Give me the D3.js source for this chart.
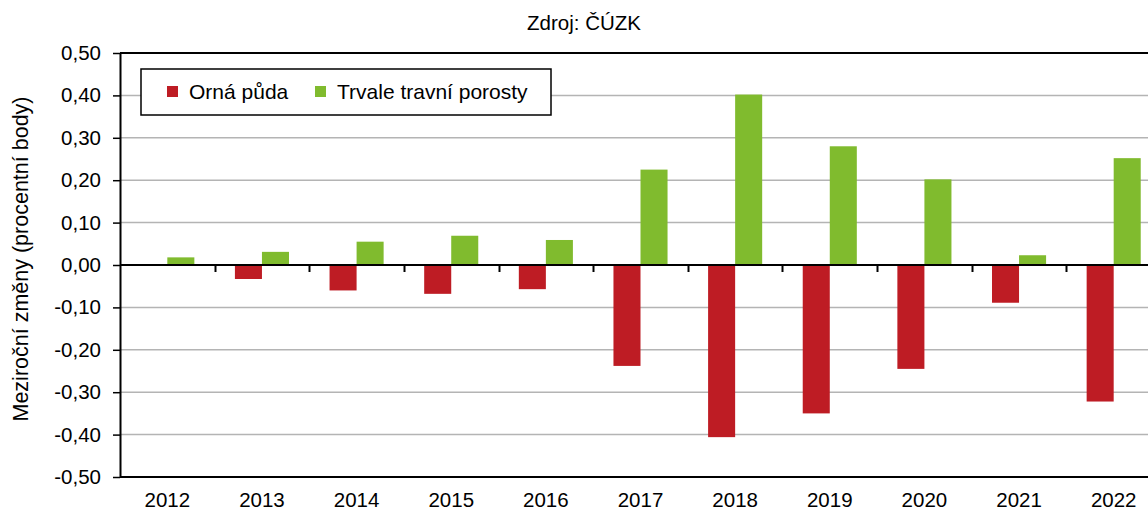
<!DOCTYPE html>
<html>
<head>
<meta charset="utf-8">
<script src="https://cdn.jsdelivr.net/npm/d3@7"></script>
<style>
    html, body { margin: 0; padding: 0; background: #fff; }
    svg { display: block; font-family: "Liberation Sans", Arial, sans-serif; }
</style>
</head>
<body>
<div id="chart"></div>
<script>
// data (procentní body)
const years = ['2012', '2013', '2014', '2015', '2016', '2017', '2018', '2019', '2020', '2021', '2022'];
const ornaPuda = [0.000, -0.033, -0.060, -0.068, -0.057, -0.238, -0.406, -0.350, -0.245, -0.089, -0.322];
const travniPorosty = [0.018, 0.031, 0.055, 0.069, 0.059, 0.225, 0.402, 0.280, 0.202, 0.023, 0.252];
const seriesNames = ['Orná půda', 'Trvale travní porosty'];
const seriesColors = ['#be1c24', '#80bb2e'];
const yTicks = [-0.5, -0.4, -0.3, -0.2, -0.1, 0, 0.1, 0.2, 0.3, 0.4, 0.5];

const width = 1148;
const height = 510;
const margins = {top: 53, right: -13, bottom: 33, left: 120};
const fmt = v => d3.format('.2f')(v).replace('.', ',').replace('−', '-');

const svg = d3.select('#chart')
    .append('svg')
    .attr('width', width)
    .attr('height', height);

const x = d3.scaleBand()
    .domain(years)
    .range([margins.left, width - margins.right]);

const xSub = d3.scaleBand()
    .domain([0, 1])
    .range([0, x.step()])
    .paddingOuter(0.75);

const y = d3.scaleLinear()
    .domain([-0.5, 0.5])
    .range([height - margins.bottom, margins.top]);

// gridlines
svg.append('g')
    .selectAll('line')
    .data(yTicks.filter(t => Math.abs(t) > 0.001 && Math.abs(t) < 0.49))
    .enter()
    .append('line')
    .attr('x1', margins.left)
    .attr('x2', width - margins.right)
    .attr('y1', d => y(d))
    .attr('y2', d => y(d))
    .attr('stroke', '#b4b4b4')
    .attr('stroke-width', 1.5);

// top border + bottom edge
[0.5, -0.5].forEach(v => {
    svg.append('line')
        .attr('x1', margins.left)
        .attr('x2', width - margins.right)
        .attr('y1', y(v))
        .attr('y2', y(v))
        .attr('stroke', '#000')
        .attr('stroke-width', 2);
});

// bars
const series = [ornaPuda, travniPorosty];
series.forEach((values, si) => {
    svg.append('g')
        .selectAll('rect')
        .data(values.map((v, i) => ({year: years[i], value: v})))
        .enter()
        .append('rect')
        .attr('x', d => x(d.year) + xSub(si))
        .attr('width', xSub.bandwidth())
        .attr('y', d => y(Math.max(0, d.value)))
        .attr('height', d => Math.abs(y(d.value) - y(0)))
        .attr('fill', seriesColors[si]);
});

// zero line with category ticks
svg.append('line')
    .attr('x1', margins.left)
    .attr('x2', width - margins.right)
    .attr('y1', y(0))
    .attr('y2', y(0))
    .attr('stroke', '#000')
    .attr('stroke-width', 2);

svg.append('g')
    .selectAll('line')
    .data(years.slice(1))
    .enter()
    .append('line')
    .attr('x1', d => Math.round(x(d)) + 0.5)
    .attr('x2', d => Math.round(x(d)) + 0.5)
    .attr('y1', y(0))
    .attr('y2', y(0) + 7)
    .attr('stroke', '#000')
    .attr('stroke-width', 2);

// x labels at the bottom
svg.append('g')
    .selectAll('text')
    .data(years)
    .enter()
    .append('text')
    .attr('x', d => x(d) + x.bandwidth() / 2)
    .attr('y', 507)
    .attr('text-anchor', 'middle')
    .style('font-size', '20.5px')
    .text(d => d);

// y axis
const yAxis = svg.append('g')
    .attr('transform', `translate(${margins.left}, 0)`)
    .call(d3.axisLeft(y).tickValues(yTicks).tickFormat(fmt).tickSize(7).tickPadding(12).tickSizeOuter(0));
yAxis.select('.domain').attr('stroke-width', 2);
yAxis.selectAll('.tick line').attr('stroke-width', 1.5);
yAxis.selectAll('.tick text')
    .attr('fill', '#000')
    .style('font-size', '20.5px')
    .style('font-family', '"Liberation Sans", Arial, sans-serif');

// y axis title
svg.append('text')
    .attr('transform', 'translate(28, 259) rotate(-90)')
    .attr('text-anchor', 'middle')
    .style('font-size', '21.5px')
    .text('Meziroční změny (procentní body)');

// title
svg.append('text')
    .attr('x', 584)
    .attr('y', 30)
    .attr('text-anchor', 'middle')
    .style('font-size', '20.5px')
    .text('Zdroj: ČÚZK');

// legend
const legend = svg.append('g').attr('transform', 'translate(141, 69)');
legend.append('rect')
    .attr('width', 410)
    .attr('height', 46)
    .attr('fill', '#fff')
    .attr('stroke', '#000')
    .attr('stroke-width', 1.5);

const legendX = [26, 174];
seriesNames.forEach((name, i) => {
    legend.append('rect')
        .attr('x', legendX[i])
        .attr('y', 17)
        .attr('width', 11)
        .attr('height', 11)
        .attr('fill', seriesColors[i]);
    legend.append('text')
        .attr('x', legendX[i] + 22)
        .attr('y', 30)
        .style('font-size', '21px')
        .text(name);
});
</script>
</body>
</html>
